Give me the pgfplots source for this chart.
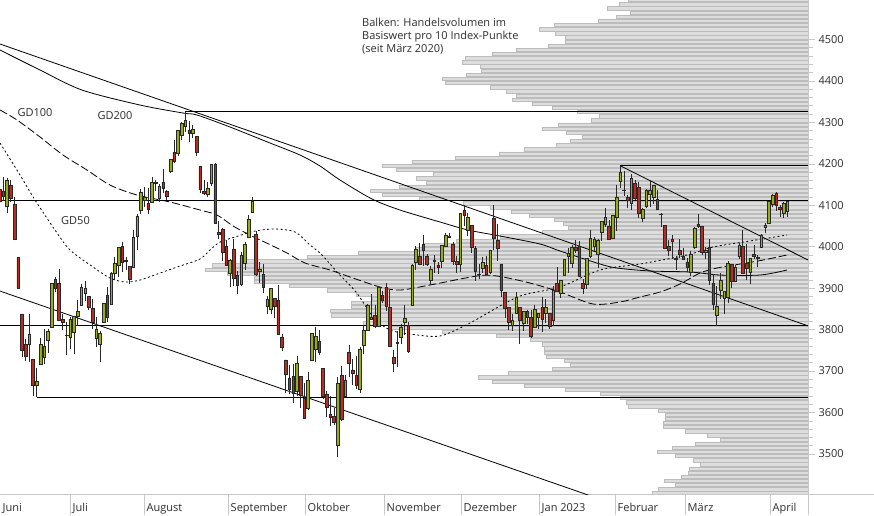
\documentclass[border=0pt]{standalone}
\usepackage{pgfplots}
\pgfplotsset{compat=1.18}
\usepackage{pgfplotstable}
\usepackage{fontspec}
\setmainfont{Open Sans}
\definecolor{upc}{RGB}{152,172,24}
\definecolor{dnc}{RGB}{186,44,34}
\definecolor{volfill}{RGB}{221,221,221}
\definecolor{voldraw}{RGB}{188,188,188}
\definecolor{axgray}{RGB}{200,200,200}
\definecolor{txt}{RGB}{45,45,45}
\definecolor{edge}{RGB}{40,40,40}

\pgfplotstableread{
i o h l c
-1 4137.57 4142.67 4098.67 4108.54
0 4134.72 4168.78 4109.18 4121.43
1 4096.47 4164.86 4080.19 4160.68
2 4147.12 4160.14 4107.20 4115.77
3 4101.65 4119.10 4017.17 4017.82
4 3974.39 3974.39 3900.16 3900.86
5 3838.15 3838.15 3734.30 3749.63
6 3763.52 3778.18 3724.87 3735.48
7 3764.05 3837.56 3722.30 3789.99
8 3728.18 3728.18 3639.77 3666.77
9 3665.90 3707.71 3636.87 3674.84
10 3715.31 3779.65 3715.31 3764.79
11 3733.89 3801.79 3717.69 3759.89
12 3774.71 3802.58 3743.52 3795.73
13 3805.90 3913.65 3805.90 3911.74
14 3920.76 3927.72 3889.66 3900.11
15 3913.00 3945.86 3820.14 3821.55
16 3825.09 3836.50 3799.02 3818.83
17 3785.99 3818.99 3738.67 3785.38
18 3781.00 3829.82 3752.10 3825.33
19 3792.61 3832.19 3742.06 3831.39
20 3831.98 3870.91 3809.37 3845.08
21 3858.85 3910.63 3858.85 3902.62
22 3888.26 3918.50 3869.34 3899.38
23 3880.94 3880.94 3847.22 3854.43
24 3851.95 3873.41 3802.36 3818.80
25 3779.67 3829.44 3759.07 3801.78
26 3763.99 3796.41 3721.56 3790.38
27 3818.00 3863.62 3817.18 3863.16
28 3883.79 3902.44 3818.63 3830.85
29 3860.73 3939.81 3860.73 3936.69
30 3935.32 3974.13 3922.03 3959.90
31 3955.47 3999.29 3927.64 3998.95
32 4000.20 4012.44 3938.27 3961.63
33 3965.72 3975.30 3943.46 3966.84
34 3953.22 3953.22 3910.74 3921.05
35 3951.43 4039.56 3951.43 4023.61
36 4026.13 4078.95 3992.97 4072.43
37 4087.33 4140.15 4079.22 4130.29
38 4112.38 4144.95 4096.02 4118.63
39 4104.21 4140.47 4079.81 4091.19
40 4107.96 4167.66 4107.96 4155.17
41 4154.85 4161.29 4135.42 4151.94
42 4115.87 4151.58 4107.31 4145.19
43 4155.93 4186.62 4128.97 4140.06
44 4133.11 4137.30 4112.09 4122.47
45 4181.02 4211.03 4177.26 4210.24
46 4227.40 4257.91 4201.41 4207.27
47 4225.02 4280.47 4219.78 4280.15
48 4269.37 4301.79 4256.90 4297.14
49 4290.46 4325.28 4277.77 4305.20
50 4280.40 4302.18 4253.08 4274.04
51 4273.13 4292.53 4261.98 4283.74
52 4266.31 4266.31 4218.70 4228.48
53 4195.08 4195.08 4129.86 4137.99
54 4133.09 4159.77 4124.03 4128.73
55 4126.55 4156.56 4119.97 4140.77
56 4153.26 4200.54 4147.59 4199.12
57 4198.74 4203.04 4057.66 4057.66
58 4034.58 4062.99 4017.42 4030.61
59 4041.25 4044.98 3965.21 3986.16
60 4000.67 4015.37 3954.53 3955.00
61 3936.73 3970.23 3903.65 3966.85
62 3994.66 4018.43 3906.21 3924.26
63 3930.89 3942.55 3886.75 3908.19
64 3909.43 3987.89 3906.03 3979.87
65 3959.94 4010.50 3944.81 4006.18
66 4022.94 4076.81 4022.94 4067.36
67 4083.67 4119.28 4083.67 4110.41
68 4030.00 4038.00 3928.21 3932.69
69 3940.73 3961.94 3912.65 3946.01
70 3932.41 3959.14 3888.28 3901.35
71 3856.10 3880.54 3837.08 3873.33
72 3849.91 3900.45 3838.50 3899.89
73 3875.23 3876.01 3827.54 3855.93
74 3871.40 3907.07 3789.49 3789.93
75 3782.36 3790.19 3749.45 3757.99
76 3727.14 3727.14 3647.47 3693.23
77 3682.72 3715.67 3644.76 3655.04
78 3686.44 3717.53 3623.29 3647.29
79 3651.94 3736.74 3640.61 3719.04
80 3687.01 3687.01 3610.40 3640.47
81 3633.48 3671.44 3584.13 3585.62
82 3609.78 3698.35 3604.93 3678.43
83 3726.46 3791.92 3726.46 3790.93
84 3753.25 3806.91 3722.66 3783.28
85 3771.97 3797.93 3739.22 3744.52
86 3706.74 3706.74 3632.51 3639.66
87 3644.79 3652.17 3588.10 3612.39
88 3595.86 3640.66 3568.45 3588.84
89 3590.83 3611.17 3570.10 3577.03
90 3520.37 3685.41 3491.58 3669.91
91 3690.41 3712.00 3579.68 3583.07
92 3638.65 3689.73 3638.65 3677.95
93 3746.26 3762.79 3686.53 3719.98
94 3703.11 3728.58 3666.51 3695.16
95 3689.05 3736.00 3656.44 3665.78
96 3657.10 3757.89 3647.42 3752.75
97 3762.01 3810.74 3741.65 3797.34
98 3799.44 3862.79 3799.44 3859.11
99 3825.97 3886.15 3824.07 3830.60
100 3834.69 3859.95 3803.79 3807.30
101 3808.26 3905.42 3808.26 3901.06
102 3881.85 3893.73 3863.18 3871.98
103 3901.79 3911.79 3843.80 3856.10
104 3852.90 3894.44 3758.68 3759.69
105 3733.25 3750.59 3698.15 3719.89
106 3766.98 3796.34 3708.84 3770.55
107 3780.71 3813.95 3764.70 3806.80
108 3817.02 3859.40 3786.28 3828.11
109 3810.94 3818.20 3744.22 3748.57
110 3859.89 3958.33 3859.89 3956.37
111 3963.72 4001.48 3944.82 3992.93
112 3977.97 4008.97 3956.40 3957.25
113 4006.41 4028.84 3953.17 3991.73
114 3976.82 3983.09 3954.34 3958.79
115 3919.26 3954.33 3906.54 3946.56
116 3966.39 3979.89 3935.98 3965.34
117 3956.23 3962.00 3933.34 3949.94
118 3965.51 4003.46 3947.67 4003.58
119 4000.30 4033.78 3998.66 4027.26
120 4023.34 4034.02 4020.76 4026.12
121 4005.36 4012.27 3955.77 3963.94
122 3964.19 3976.77 3937.65 3957.63
123 3957.18 4080.11 3938.58 4080.11
124 4087.14 4100.51 4050.87 4076.57
125 4040.17 4080.48 4026.63 4071.70
126 4052.02 4052.45 3984.49 3998.84
127 3996.63 4001.51 3918.39 3941.26
128 3933.28 3957.57 3922.68 3933.92
129 3947.79 3974.19 3935.83 3963.51
130 3954.17 3977.02 3933.04 3934.38
131 3939.29 3990.71 3935.30 3990.56
132 4069.38 4100.96 3993.03 4019.65
133 4015.54 4053.76 3965.65 3995.32
134 3958.37 3958.37 3879.45 3895.75
135 3890.91 3890.91 3827.91 3852.36
136 3853.79 3854.86 3800.04 3817.66
137 3810.47 3838.24 3795.62 3821.62
138 3839.49 3889.82 3839.49 3878.44
139 3853.26 3853.26 3764.49 3822.39
140 3815.11 3845.80 3797.01 3844.82
141 3843.34 3846.65 3813.22 3829.25
142 3829.56 3848.32 3780.78 3783.22
143 3805.45 3858.19 3805.45 3849.28
144 3829.06 3839.85 3800.34 3839.50
145 3853.29 3878.46 3794.33 3824.14
146 3840.36 3873.16 3815.77 3852.97
147 3839.74 3839.74 3802.42 3808.10
148 3823.37 3906.19 3809.56 3895.08
149 3910.82 3950.57 3890.42 3892.09
150 3888.57 3919.83 3877.29 3919.25
151 3932.35 3970.07 3928.54 3969.61
152 3977.57 3997.76 3937.56 3983.17
153 3960.60 4003.95 3947.67 3999.09
154 3999.28 4015.39 3984.57 3990.97
155 4002.25 4014.16 3926.59 3928.86
156 3911.84 3922.94 3885.54 3898.85
157 3909.04 3972.96 3897.86 3972.61
158 3978.14 4039.31 3971.64 4019.81
159 4001.74 4023.92 3989.79 4016.95
160 3982.71 4019.55 3949.06 4016.22
161 4036.08 4061.57 4013.29 4060.43
162 4053.72 4094.21 4048.70 4070.56
163 4049.27 4063.85 4015.55 4017.77
164 4020.85 4077.16 4020.44 4076.60
165 4070.07 4148.95 4037.20 4119.21
166 4158.68 4195.44 4141.88 4179.76
167 4136.69 4182.36 4123.36 4136.48
168 4119.57 4124.63 4093.38 4111.08
169 4105.35 4176.54 4088.39 4164.00
170 4153.47 4160.77 4111.86 4117.86
171 4144.25 4156.23 4069.67 4081.50
172 4068.92 4094.36 4060.79 4090.46
173 4096.62 4138.90 4092.67 4137.29
174 4126.70 4159.77 4095.01 4136.13
175 4119.50 4148.11 4103.98 4147.60
176 4114.75 4136.54 4089.49 4090.41
177 4077.39 4081.51 4047.95 4079.09
178 4052.35 4052.35 3995.19 3997.34
179 4001.83 4017.37 3976.90 3991.05
180 4018.60 4028.30 3969.19 4012.32
181 3973.24 3978.25 3943.08 3970.04
182 3992.36 4018.05 3973.55 3982.24
183 3977.19 3997.50 3968.98 3970.15
184 3963.34 3971.73 3939.05 3951.39
185 3938.68 3990.84 3928.16 3981.35
186 3998.02 4048.29 3995.17 4045.64
187 4055.15 4078.49 4044.61 4048.42
188 4048.26 4050.00 3980.31 3986.37
189 3987.55 4000.41 3969.76 3992.01
190 3998.66 4017.81 3908.70 3918.32
191 3912.77 3934.05 3846.32 3861.59
192 3835.12 3905.05 3808.86 3855.76
193 3894.01 3937.29 3873.63 3919.29
194 3876.74 3894.26 3838.24 3891.93
195 3878.93 3964.46 3864.11 3960.28
196 3958.69 3958.91 3901.27 3916.64
197 3917.47 3956.62 3916.89 3951.57
198 3975.89 4009.08 3971.19 4002.87
199 4002.04 4039.49 3936.17 3936.97
200 3959.21 4007.66 3919.05 3948.72
201 3939.21 3972.74 3909.16 3970.99
202 3982.93 4003.83 3970.47 3977.53
203 3974.13 3979.20 3951.53 3971.27
204 3999.53 4030.59 3999.53 4027.81
205 4046.74 4057.85 4032.10 4050.83
206 4056.18 4110.75 4056.18 4109.31
207 4102.20 4127.66 4095.52 4124.51
208 4128.03 4133.13 4086.87 4100.60
209 4094.50 4099.69 4072.56 4090.38
210 4081.15 4107.32 4069.84 4105.02
211 4085.20 4109.50 4072.55 4109.11
}\ohlc

\pgfplotstableread{
v w
4595 180
4585 189
4575 201
4565 178
4555 192
4545 210
4535 254
4525 269
4515 253
4505 243
4495 243
4485 260
4475 292
4465 316
4455 343
4445 346
4435 328
4425 327
4415 342
4405 366
4395 363
4385 318
4375 302
4365 292
4355 296
4345 276
4335 256
4325 231
4315 209
4305 217
4295 250
4285 266
4275 242
4265 226
4255 238
4245 252
4235 284
4225 309
4215 353
4205 396
4195 426
4185 412
4175 375
4165 392
4155 382
4145 409
4135 438
4125 426
4115 389
4105 345
4095 318
4085 297
4075 279
4065 254
4055 245
4045 240
4035 266
4025 308
4015 352
4005 384
3995 392
3985 450
3975 501
3965 568
3955 596
3945 603
3935 581
3925 554
3915 554
3905 519
3895 481
3885 452
3875 436
3865 457
3855 457
3845 478
3835 477
3825 432
3815 445
3805 420
3795 366
3785 312
3775 278
3765 266
3755 264
3745 264
3735 262
3725 244
3715 238
3705 256
3695 300
3685 330
3675 316
3665 284
3655 243
3645 208
3635 188
3625 182
3615 180
3605 150
3595 143
3585 143
3575 145
3565 145
3555 123
3545 101
3535 88
3525 113
3515 136
3505 151
3495 133
3485 115
3475 108
3465 119
3455 120
3445 127
3435 144
3425 133
3415 150
3405 156
}\vol

\begin{document}
\begin{tikzpicture}[font=\fontsize{11}{13.3}\selectfont]
\useasboundingbox (0,-21pt) rectangle (874pt,494pt);
\pgfplotsset{base/.style={scale only axis, width=808pt, height=494pt,
  at={(0,0)}, anchor=south west, ymin=3403.4, ymax=4595.2,
  tick label style={font=\fontsize{11}{13}\selectfont, text=txt}}}

% volume profile (bars from the right edge)
\begin{axis}[base, hide axis, xmin=0, xmax=808, x dir=reverse, xbar, bar width=8]
\addplot[fill=volfill, draw=voldraw, line width=0.5pt] table[x=w, y=v] \vol;
\end{axis}

% x axis with month separators
\begin{axis}[base, clip=false, xmin=-0.89, xmax=216.55, axis x line*=bottom, axis y line=none,
  x axis line style={draw=axgray, line width=0.6pt, shorten >=-66pt},
  xtick={17.95,37.86,60.47,81.19,102.45,123.17,144.16,164.61,183.45,206.33,216.55},
  xticklabels={}, tick align=outside, major tick length=21pt,
  xtick style={draw=axgray, line width=0.6pt}, ytick=\empty]
\addplot[draw=none] coordinates {(0,4000)};
\node[anchor=base west, inner sep=0, text=txt, xshift=2.5pt, yshift=-17.7pt] at (axis cs:-0.89,3403.4) {Juni};
\node[anchor=base west, inner sep=0, text=txt, xshift=2.5pt, yshift=-17.7pt] at (axis cs:17.95,3403.4) {Juli};
\node[anchor=base west, inner sep=0, text=txt, xshift=2.5pt, yshift=-17.7pt] at (axis cs:37.86,3403.4) {August};
\node[anchor=base west, inner sep=0, text=txt, xshift=2.5pt, yshift=-17.7pt] at (axis cs:60.47,3403.4) {September};
\node[anchor=base west, inner sep=0, text=txt, xshift=2.5pt, yshift=-17.7pt] at (axis cs:81.19,3403.4) {Oktober};
\node[anchor=base west, inner sep=0, text=txt, xshift=2.5pt, yshift=-17.7pt] at (axis cs:102.45,3403.4) {November};
\node[anchor=base west, inner sep=0, text=txt, xshift=2.5pt, yshift=-17.7pt] at (axis cs:123.17,3403.4) {Dezember};
\node[anchor=base west, inner sep=0, text=txt, xshift=2.5pt, yshift=-17.7pt] at (axis cs:144.16,3403.4) {Jan 2023};
\node[anchor=base west, inner sep=0, text=txt, xshift=2.5pt, yshift=-17.7pt] at (axis cs:164.61,3403.4) {Februar};
\node[anchor=base west, inner sep=0, text=txt, xshift=2.5pt, yshift=-17.7pt] at (axis cs:183.45,3403.4) {März};
\node[anchor=base west, inner sep=0, text=txt, xshift=2.5pt, yshift=-17.7pt] at (axis cs:206.33,3403.4) {April};
\end{axis}

% main axis: y scale, lines, averages, wicks
\begin{axis}[base, xmin=-0.89, xmax=216.55, axis x line=none, axis y line*=right,
  y axis line style={draw=axgray, line width=0.6pt, shorten <=-21pt},
  xtick=\empty, ytick={3500,3600,...,4500}, minor y tick num=4,
  tick align=outside, major tick length=7pt, minor tick length=4.5pt,
  ytick style={draw=axgray, line width=0.6pt},
  yticklabel style={anchor=west},
  /pgf/number format/assume math mode=true,
  /pgf/number format/set thousands separator={}]
% horizontal levels
\addplot[black, line width=0.9pt] coordinates {(49,4325.28) (216.55,4325.28)};
\addplot[black, line width=0.9pt] coordinates {(166,4195.44) (216.55,4195.44)};
\addplot[black, line width=0.9pt] coordinates {(-0.89,4112) (216.55,4112)};
\addplot[black, line width=0.9pt] coordinates {(-0.89,3808.86) (216.55,3808.86)};
\addplot[black, line width=0.9pt] coordinates {(9,3636.87) (216.55,3636.87)};
% trend lines
\addplot[black, line width=0.8pt] coordinates {(-0.89,4489) (216.55,3809)};
\addplot[black, line width=0.8pt] coordinates {(-0.89,3893) (216.55,3217)};
\addplot[black, line width=0.8pt] coordinates {(166,4195.44) (216.55,3968)};
% GD200
\addplot[black, line width=0.8pt, smooth] coordinates {
(-0.89,4474.5) (9.88,4426.3) (21.18,4378.0) (36.79,4341.8) (48.36,4322.5) (52.13,4317.7)
(61.0,4288.8) (71.77,4250.2) (79.84,4221.2) (85.22,4194.7) (90.61,4160.9) (99.22,4115.1)
(106.75,4088.5) (117.52,4059.6) (125.06,4040.3) (133.67,4025.8) (144.43,4006.5) (149.82,3989.6)
(160.58,3958.3) (165.16,3948.6) (174.04,3941.4) (184.8,3939.0) (192.87,3931.7) (203.64,3931.7) (210.9,3943.8)};
% GD100
\addplot[black, line width=0.8pt, dash pattern=on 8pt off 3pt, smooth] coordinates {
(-0.89,4329.8) (3.69,4305.7) (9.88,4264.7) (16.07,4221.2) (22.53,4185.0) (28.71,4148.8)
(35.98,4124.7) (44.87,4107.8) (52.93,4088.5) (57.51,4076.5) (61.82,4050) (66.39,4028)
(71.77,4005) (76.35,3984.8) (81.19,3960.7) (87.92,3943.8) (93.30,3926.9) (101.37,3902.8)
(106.75,3895.5) (114.82,3907.6) (127.47,3929.3) (132.85,3929.3) (141.73,3912.4) (149.82,3890.7)
(158.7,3861.8) (165.97,3866.6) (171.35,3878.7) (176.73,3890.7) (182.11,3910.0) (187.49,3936.6)
(192.07,3948.6) (198.3,3958.3) (204.45,3967.8) (210.9,3980.0)};
% GD50
\addplot[black, line width=0.8pt, dash pattern=on 2pt off 2.5pt, smooth] coordinates {
(-0.89,4250.2) (4.49,4173) (8.53,4112.7) (13.91,4040.3) (17.95,3992.1) (24.14,3951.1)
(28.71,3924.5) (32.75,3914.8) (36.79,3919.6) (42.17,3936.5) (47.55,3953.4) (52.93,3970.3)
(55.63,3992.0) (58.32,4011.3) (62.35,4023.4) (67.74,4037.8) (73.12,4042.7) (78.5,4035.5)
(82.54,4004.1) (85.77,3980.0) (90.07,3936.5) (94.92,3890.7) (99.76,3828.0) (104.07,3799.0)
(109.45,3789.4) (117.52,3784.6) (125.6,3816.0) (133.67,3857.0) (139.86,3883.5) (149.82,3902.8)
(160.58,3943.8) (171.35,3958.3) (183.99,3980.0) (190.99,3999.3) (200.95,4013.8) (210.9,4028.2)};
% wicks
\addplot[draw=none, mark=none, error bars/.cd, y dir=both, y explicit, error mark=none,
  error bar style={draw=edge, line width=0.7pt, solid}]
  table[x=i, y expr={(\thisrow{h}+\thisrow{l})/2}, y error expr={(\thisrow{h}-\thisrow{l})/2}] \ohlc;
% labels
\node[anchor=base west, inner sep=0, text=txt] at (axis cs:3.77,4313.6) {GD100};
\node[anchor=base west, inner sep=0, text=txt] at (axis cs:25.3,4305.7) {GD200};
\node[anchor=base west, inner sep=0, text=txt] at (axis cs:15.53,4052.4) {GD50};
\node[anchor=base west, inner sep=0, text=txt] at (axis cs:96.53,4532.4) {Balken: Handelsvolumen im};
\node[anchor=base west, inner sep=0, text=txt] at (axis cs:96.53,4500.3) {Basiswert pro 10 Index-Punkte};
\node[anchor=base west, inner sep=0, text=txt] at (axis cs:96.53,4468.0) {(seit März 2020)};
\end{axis}

% candle bodies
\begin{axis}[base, hide axis, xmin=-0.89, xmax=216.55, ybar stacked, bar width=0.7]
\addplot[draw=none, fill=none] table[x=i, y expr={min(\thisrow{o},\thisrow{c})}] \ohlc;
\addplot[fill=upc, draw=edge, line width=0.5pt] table[x=i, y expr={max(\thisrow{c}-\thisrow{o},0)}] \ohlc;
\addplot[fill=dnc, draw=edge, line width=0.5pt] table[x=i, y expr={max(\thisrow{o}-\thisrow{c},0)}] \ohlc;
\end{axis}
\end{tikzpicture}
\end{document}
